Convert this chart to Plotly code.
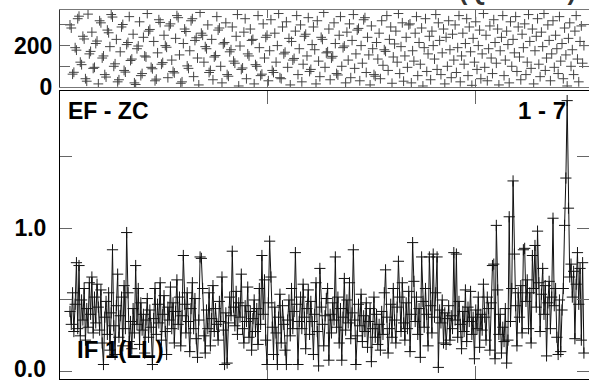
import plotly.graph_objects as go

# ---- data ----
amplitude = [
    0.42, 0.33, 0.55, 0.28, 0.47, 0.76, 0.30, 0.74, 0.25, 0.50, 0.36, 0.58, 0.22, 0.44, 0.31, 0.62, 0.40, 0.66, 0.27, 0.52,
    0.34, 0.61, 0.45, 0.29, 0.57, 0.20, 0.05, 0.38, 0.49, 0.26, 0.55, 0.15, 0.41, 0.85, 0.32, 0.12, 0.46, 0.68, 0.24, 0.39,
    0.52, 0.18, 0.60, 0.30, 0.97, 0.55, 0.21, 0.35, 0.16, 0.44, 0.27, 0.74, 0.33, 0.58, 0.19, 0.48, 0.29, 0.40, 0.13, 0.36,
    0.51, 0.24, 0.43, 0.31, 0.05, 0.37, 0.58, 0.26, 0.47, 0.34, 0.62, 0.22, 0.40, 0.53, 0.28, 0.12, 0.45, 0.36, 0.59, 0.30,
    0.48, 0.20, 0.42, 0.64, 0.33, 0.52, 0.18, 0.39, 0.81, 0.47, 0.27, 0.55, 0.35, 0.14, 0.44, 0.62, 0.30, 0.51, 0.23, 0.10,
    0.36, 0.80, 0.79, 0.58, 0.25, 0.13, 0.43, 0.30, 0.55, 0.18, 0.37, 0.60, 0.28, 0.44, 0.33, 0.22, 0.49, 0.35, 0.66, 0.29,
    0.05, 0.41, 0.06, 0.34, 0.52, 0.39, 0.84, 0.45, 0.32, 0.56, 0.26, 0.48, 0.38, 0.68, 0.30, 0.20, 0.46, 0.35, 0.59, 0.24,
    0.42, 0.15, 0.37, 0.50, 0.28, 0.44, 0.19, 0.58, 0.33, 0.81, 0.40, 0.64, 0.22, 0.05, 0.48, 0.91, 0.66, 0.31, 0.12, 0.45,
    0.27, 0.05, 0.38, 0.54, 0.20, 0.46, 0.33, 0.15, 0.05, 0.36, 0.50, 0.25, 0.58, 0.30, 0.42, 0.83, 0.47, 0.05, 0.35, 0.52,
    0.30, 0.61, 0.38, 0.16, 0.44, 0.57, 0.26, 0.49, 0.35, 0.12, 0.40, 0.62, 0.28, 0.04, 0.72, 0.45, 0.33, 0.18, 0.39, 0.51,
    0.58, 0.08, 0.40, 0.27, 0.48, 0.36, 0.80, 0.31, 0.52, 0.20, 0.44, 0.08, 0.38, 0.65, 0.29, 0.50, 0.34, 0.62, 0.23, 0.41,
    0.85, 0.36, 0.05, 0.25, 0.47, 0.32, 0.54, 0.21, 0.39, 0.28, 0.48, 0.17, 0.35, 0.44, 0.07, 0.30, 0.52, 0.24, 0.40, 0.19,
    0.33, 0.15, 0.42, 0.26, 0.55, 0.71, 0.38, 0.13, 0.30, 0.47, 0.24, 0.58, 0.36, 0.20, 0.45, 0.77, 0.52, 0.28, 0.62, 0.34,
    0.22, 0.48, 0.30, 0.56, 0.14, 0.40, 0.90, 0.63, 0.35, 0.52, 0.26, 0.44, 0.10, 0.80, 0.49, 0.31, 0.58, 0.40, 0.18, 0.80,
    0.46, 0.27, 0.82, 0.38, 0.55, 0.80, 0.03, 0.43, 0.34, 0.50, 0.20, 0.41, 0.19, 0.37, 0.46, 0.22, 0.39, 0.30, 0.83, 0.36,
    0.82, 0.24, 0.49, 0.33, 0.16, 0.42, 0.28, 0.57, 0.21, 0.45, 0.35, 0.56, 0.26, 0.38, 0.09, 0.43, 0.30, 0.52, 0.17, 0.40,
    0.29, 0.61, 0.38, 0.22, 0.52, 0.44, 0.15, 0.48, 0.74, 0.75, 0.09, 1.02, 0.57, 0.26, 0.40, 0.13, 0.31, 0.21, 0.44, 0.06,
    0.22, 1.08, 0.35, 0.58, 1.33, 0.82, 0.46, 0.18, 0.55, 0.38, 0.60, 0.27, 0.85, 0.86, 0.49, 0.64, 0.30, 0.55, 0.20, 0.81,
    0.58, 0.88, 0.45, 0.98, 0.62, 0.28, 0.54, 0.72, 0.40, 0.60, 0.11, 0.48, 0.63, 0.30, 0.52, 1.07, 0.46, 0.58, 0.24, 0.12,
    0.50, 0.14, 0.43, 0.58, 1.02, 1.35, 1.89, 1.14, 0.66, 0.75, 0.52, 0.70, 0.23, 0.61, 0.83, 0.47, 0.72, 0.22, 0.76, 0.13,
]

phase = [
    300, 285, 62, 71, 190, 178, 330, 342, 120, 108, 245, 232, 40, 28, 352, 160, 172, 265, 90, 95,
    210, 222, 15, 320, 310, 140, 150, 60, 48, 275, 262, 195, 350, 338, 100, 112, 230, 25, 35, 170,
    290, 302, 80, 72, 205, 215, 340, 128, 135, 255, 20, 12, 185, 198, 315, 55, 65, 240, 150, 145,
    355, 270, 278, 95, 88, 220, 30, 38, 165, 325, 312, 110, 118, 250, 200, 192, 45, 295, 305, 130,
    75, 68, 235, 345, 335, 155, 18, 25, 210, 280, 268, 102, 90, 175, 320, 330, 50, 225, 238, 140,
    10, 360, 260, 250, 120, 195, 185, 300, 70, 80, 230, 35, 145, 152, 340, 275, 285, 100, 20, 208,
    215, 310, 60, 52, 170, 180, 290, 125, 115, 245, 350, 5, 198, 85, 92, 265, 330, 40, 160, 150,
    280, 225, 230, 15, 108, 100, 345, 190, 55, 62, 305, 140, 240, 250, 30, 175, 325, 80, 70, 260,
    120, 200, 355, 45, 40, 290, 160, 168, 315, 95, 235, 10, 220, 130, 138, 270, 345, 60, 185, 300,
    25, 110, 245, 255, 150, 335, 75, 85, 205, 290, 180, 15, 320, 125, 50, 240, 230, 360, 95, 165,
    170, 280, 35, 140, 148, 310, 210, 65, 58, 250, 340, 100, 190, 198, 20, 265, 130, 305, 45, 225,
    350, 90, 160, 275, 283, 30, 200, 115, 325, 335, 70, 240, 155, 10, 295, 185, 60, 52, 215, 135,
    260, 40, 320, 105, 180, 172, 345, 80, 230, 290, 18, 145, 208, 270, 120, 355, 65, 195, 310, 28,
    150, 240, 95, 300, 305, 20, 175, 125, 260, 340, 55, 215, 110, 285, 5, 190, 330, 75, 160, 245,
    35, 270, 200, 135, 350, 85, 310, 225, 60, 165, 280, 15, 240, 100, 320, 180, 45, 255, 130, 300,
    70, 190, 345, 25, 150, 260, 110, 210, 330, 55, 290, 170, 8, 235, 120, 315, 85, 200, 275, 40,
    160, 355, 95, 250, 30, 185, 295, 140, 65, 325, 215, 115, 280, 10, 175, 240, 345, 55, 130, 270,
    205, 20, 315, 100, 230, 165, 340, 75, 290, 145, 35, 255, 190, 305, 60, 120, 350, 220, 90, 280,
    15, 175, 245, 330, 110, 50, 265, 195, 355, 80, 140, 300, 225, 30, 160, 320, 95, 250, 185, 65,
    340, 125, 210, 40, 285, 155, 5, 235, 310, 100, 180, 60, 270, 345, 135, 25, 220, 295, 115, 200,
]

sample = list(range(len(amplitude)))

phase_ticks = [0, 100, 200, 300]
phase_ticktext = ["0", "", "200", ""]
amp_ticks = [0.0, 0.5, 1.0, 1.5]
amp_ticktext = ["", "", "1.0", ""]
amp_zero_label = "0.0"

title_text = "Uncalibrated data from 1803+784 (Q-BAND)"
baseline_label = "EF - ZC"
pair_label = "1 - 7"
if_label = "IF 1(LL)"

# ---- figure ----
FONT = "Liberation Sans, Arial, sans-serif"
W, H = 589, 382
ML, MR, MT, MB = 60, 0, 10, 3
plot_h = H - MT - MB

X0 = -7.76
X1 = 402.95
xtick_step = 161.1
xticks = [X0 + k * xtick_step for k in range(3)]

fig = go.Figure()

fig.add_trace(go.Scatter(
    x=sample, y=phase, mode="markers",
    marker=dict(symbol="cross-thin", size=7, line=dict(width=1, color="#444")),
    xaxis="x", yaxis="y", showlegend=False,
))

fig.add_trace(go.Scatter(
    x=sample, y=amplitude, mode="lines+markers",
    line=dict(width=1, color="#111"),
    marker=dict(symbol="cross-thin", size=8, line=dict(width=1, color="#111")),
    xaxis="x2", yaxis="y2", showlegend=False,
))

top_dom = [(H - MB - 87) / plot_h, 1.0]
bot_dom = [0.0, (H - MB - 91) / plot_h]

tickfont = dict(family=FONT, size=23, color="black", weight="bold")

common = dict(showgrid=False, zeroline=False, automargin=False, linewidth=1,
              showline=True, mirror="ticks", ticks="inside", tickcolor="#666",
              ticklabeloverflow="allow")

fig.update_layout(
    width=W, height=H,
    margin=dict(l=ML, r=MR, t=MT, b=MB, pad=0, autoexpand=False),
    paper_bgcolor="white", plot_bgcolor="white",
    xaxis=dict(domain=[0, 1], anchor="y", range=[X0, X1], tickvals=xticks,
               showticklabels=False, ticklen=8, linecolor="#777", **common),
    yaxis=dict(domain=top_dom, anchor="x", range=[0, 372], tickvals=phase_ticks,
               ticktext=phase_ticktext, ticklen=10, linecolor="#333",
               tickfont=tickfont, ticklabelstandoff=2, **common),
    xaxis2=dict(domain=[0, 1], anchor="y2", range=[X0, X1], tickvals=xticks,
                showticklabels=False, ticklen=13, linecolor="black", **common),
    yaxis2=dict(domain=bot_dom, anchor="x2", range=[-0.051, 1.957], tickvals=amp_ticks,
                ticktext=amp_ticktext, ticklen=12, linecolor="black",
                tickfont=tickfont, ticklabelstandoff=8, **common),
)

def px_x(p):
    return (p - ML) / (W - ML - MR)

def px_y(p):
    return (H - MB - p) / plot_h

fig.add_annotation(text=amp_zero_label, xref="paper", yref="paper", x=px_x(48), y=px_y(368.5),
                   xanchor="right", yanchor="middle", showarrow=False, font=tickfont)
ann_font = dict(family=FONT, size=23, color="black", weight="bold")
fig.add_annotation(text=baseline_label, xref="paper", yref="paper", x=px_x(66), y=px_y(110.5),
                   xanchor="left", yanchor="middle", showarrow=False, font=ann_font)
fig.add_annotation(text=pair_label, xref="paper", yref="paper", x=px_x(568), y=px_y(110.5),
                   xanchor="right", yanchor="middle", showarrow=False,
                   font=dict(family=FONT, size=24, color="black", weight="bold"))
fig.add_annotation(text=if_label, xref="paper", yref="paper", x=px_x(75), y=px_y(349),
                   xanchor="left", yanchor="middle", showarrow=False,
                   font=dict(family=FONT, size=24, color="black", weight="bold"))
fig.add_annotation(text=title_text, xref="paper", yref="paper", x=px_x(578), y=px_y(7.5),
                   xanchor="right", yanchor="bottom", showarrow=False,
                   font=dict(family=FONT, size=25, color="#333", weight="bold"))

fig.write_html(
    "out.html",
    config={"displayModeBar": False},
    post_script="document.body.style.margin='0';document.body.style.overflow='hidden';",
)
